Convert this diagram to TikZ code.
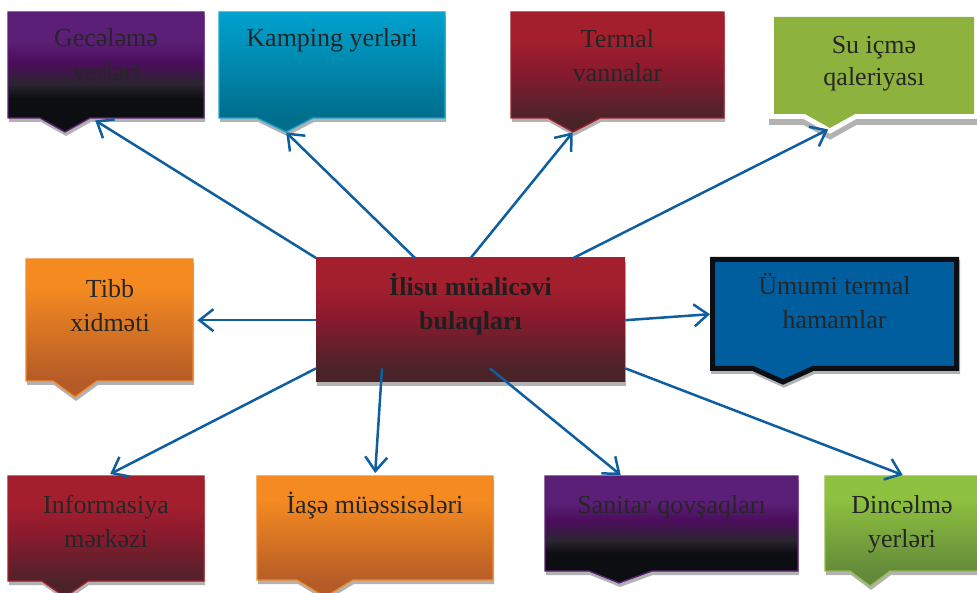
\documentclass[tikz,border=0pt]{standalone}
\usepackage{fontspec}
\setmainfont{Liberation Serif}
\usetikzlibrary{arrows.meta,calc}
\definecolor{ptop}{HTML}{5B1F77}
\definecolor{pmid}{HTML}{4A0D5B}
\definecolor{pgry}{HTML}{2A2530}
\definecolor{pblk}{HTML}{0D0E12}
\definecolor{rtop}{HTML}{A41F2E}
\definecolor{rmid}{HTML}{8A1A2E}
\definecolor{rbot}{HTML}{4A2329}
\definecolor{btop}{HTML}{00A2CE}
\definecolor{bmid}{HTML}{0090B8}
\definecolor{bbot}{HTML}{006E8C}
\definecolor{otop}{HTML}{F58A21}
\definecolor{obot}{HTML}{B45B27}
\definecolor{gtop}{HTML}{8EC13F}
\definecolor{gbot}{HTML}{62883A}
\definecolor{sgreen}{HTML}{8DB23D}
\definecolor{ublue}{HTML}{005E9E}
\definecolor{ublk}{HTML}{0B0E13}
\definecolor{arrc}{HTML}{0F5E9F}
\definecolor{shdc}{HTML}{B2B2B2}
\definecolor{txtc}{HTML}{262626}
\definecolor{pedge}{HTML}{5E2079}
\definecolor{redge}{HTML}{A21E2D}
\definecolor{bedge}{HTML}{18A6CF}
\definecolor{oedge}{HTML}{F38A2C}
\definecolor{gedge}{HTML}{8FC045}
\pgfdeclareverticalshading{purpsh}{100bp}{color(0bp)=(pblk); color(39bp)=(pblk); color(45bp)=(pgry); color(54bp)=(pmid); color(63bp)=(ptop); color(100bp)=(ptop)}
\pgfdeclareverticalshading{redsh}{100bp}{color(0bp)=(rbot); color(30bp)=(rbot); color(51bp)=(rmid); color(64bp)=(rtop); color(100bp)=(rtop)}
\pgfdeclareverticalshading{bluesh}{100bp}{color(0bp)=(bbot); color(31bp)=(bbot); color(60bp)=(bmid); color(75bp)=(btop); color(100bp)=(btop)}
\pgfdeclareverticalshading{orsh}{100bp}{color(0bp)=(obot); color(31bp)=(obot); color(65bp)=(otop); color(100bp)=(otop)}
\pgfdeclareverticalshading{grsh}{100bp}{color(0bp)=(gbot); color(30bp)=(gbot); color(65bp)=(gtop); color(100bp)=(gtop)}
\newcommand\cshape[9]{\path[#9] (#1,#2) -- (#3,#2) -- (#3,#4) -- (#7,#4) -- (#6,#8) -- (#5,#4) -- (#1,#4) -- cycle;}
\begin{document}
\begin{tikzpicture}[x=1pt,y=-1pt,
  lbl/.style={font=\fontsize{26}{34}\selectfont, text=txtc, align=center, inner sep=0pt, anchor=base},
  boxnode/.style={inner sep=0pt, anchor=north west},
  shd/.style={fill=shdc, xshift=1pt, yshift=-4pt},
  conn/.style={draw=arrc, line width=2.5pt, -{Straight Barb[length=14pt,width=22pt]}},
  purpbox/.style={shade, shading=purpsh, draw=pedge, line width=1.3pt},
  redbox/.style={shade, shading=redsh, draw=redge, line width=1.3pt},
  bluebox/.style={shade, shading=bluesh, draw=bedge, line width=1.3pt},
  orbox/.style={shade, shading=orsh, draw=oedge, line width=1.3pt},
  grbox/.style={shade, shading=grsh, draw=gedge, line width=1.3pt}]
\useasboundingbox (0,0) rectangle (977,593);
% geometry nodes
\node[boxnode, minimum width=196pt, minimum height=106pt] (g) at (8,12) {};
\node[boxnode, minimum width=226pt, minimum height=106pt] (k) at (219,12) {};
\node[boxnode, minimum width=213pt, minimum height=106pt] (t) at (511,12) {};
\node[boxnode, minimum width=200pt, minimum height=97pt] (s) at (774,17) {};
\node[boxnode, minimum width=167pt, minimum height=122pt] (tb) at (26,259) {};
\node[boxnode, minimum width=309pt, minimum height=124pt] (c) at (316,258) {};
\node[boxnode, minimum width=249pt, minimum height=114pt] (u) at (710,257) {};
\node[boxnode, minimum width=196pt, minimum height=105pt] (inf) at (8,476) {};
\node[boxnode, minimum width=236pt, minimum height=104pt] (ia) at (257,476) {};
\node[boxnode, minimum width=253pt, minimum height=95pt] (san) at (545,476) {};
\node[boxnode, minimum width=155pt, minimum height=95pt] (din) at (825,476) {};
% Gecələmə
\cshape{8}{12}{204}{118}{40}{65}{90}{132}{shd}
\cshape{8}{12}{204}{118}{40}{65}{90}{132}{purpbox}
% Kamping
\cshape{219}{12}{445}{118}{257}{286}{313}{132}{shd}
\cshape{219}{12}{445}{118}{257}{286}{313}{132}{bluebox}
% Termal
\cshape{511}{12}{724}{118}{548}{573}{600}{132}{shd}
\cshape{511}{12}{724}{118}{548}{573}{600}{132}{redbox}
% Su icme
\cshape{774}{17}{974}{114}{805}{830}{855}{128}{fill=shdc, draw=shdc, line width=10pt, yshift=-6pt}
\cshape{774}{17}{974}{114}{805}{830}{855}{128}{draw=white, line width=10pt}
\cshape{774}{17}{974}{114}{805}{830}{855}{128}{fill=sgreen}
% Tibb
\cshape{26}{259}{193}{381}{53}{75}{97}{397}{shd}
\cshape{26}{259}{193}{381}{53}{75}{97}{397}{orbox}
% center
\fill[shd] (316,258) rectangle (625,382);
\path[shade, shading=redsh] (316,258) rectangle (625,382);
% Umumi
\cshape{712.5}{259.5}{956.5}{368.5}{753}{783}{813}{382}{fill=shdc, draw=shdc, line width=5pt, xshift=1pt, yshift=-3pt}
\cshape{712.5}{259.5}{956.5}{368.5}{753}{783}{813}{382}{fill=ublue, draw=ublk, line width=5pt, line join=miter}
% Informasiya
\cshape{8}{476}{204}{581}{42}{65}{88}{597}{shd}
\cshape{8}{476}{204}{581}{42}{65}{88}{597}{redbox}
% Iase
\cshape{257}{476}{493}{580}{297}{325}{353}{597}{shd}
\cshape{257}{476}{493}{580}{297}{325}{353}{597}{orbox}
% Sanitar
\cshape{545}{476}{798}{571}{589}{619}{652}{583}{shd}
\cshape{545}{476}{798}{571}{589}{619}{652}{583}{purpbox}
% Dincelme
\cshape{825}{476}{985}{571}{850}{870}{890}{586}{shd}
\cshape{825}{476}{985}{571}{850}{870}{890}{586}{grbox}
% texts (two-line nodes: base anchor = last baseline)
\node[lbl] (gl) at (106,81) {Gecələmə\\yerləri};
\node[lbl] (kl) at (332,47) {Kamping yerləri};
\node[lbl] (tl) at (617.5,82) {Termal\\vannalar};
\node[lbl, font=\fontsize{26}{32}\selectfont] (sl) at (874,86) {Su içmə\\qaleriyası};
\node[lbl] (tbl) at (110,332) {Tibb\\xidməti};
\node[lbl, font=\fontsize{26}{34}\selectfont\bfseries, text=black!88] (cl) at (470.5,330) {İlisu müalicəvi\\bulaqları};
\node[lbl] (ul) at (834.5,329) {Ümumi termal\\hamamlar};
\node[lbl] (infl) at (106,547) {Informasiya\\mərkəzi};
\node[lbl] (ial) at (375,513) {İaşə müəssisələri};
\node[lbl] (sanl) at (671.5,513) {Sanitar qovşaqları};
\node[lbl] (dinl) at (902,547) {Dincəlmə\\yerləri};
% connectors
\draw[conn] (c.north west) -- ([xshift=-11pt,yshift=-2pt]g.south);
\draw[conn] ([xshift=99pt]c.north west) -- ([xshift=-46pt,yshift=-14pt]k.south);
\draw[conn] (c.north) -- ([xshift=-45pt,yshift=-14pt]t.south);
\draw[conn] ([xshift=-52pt]c.north east) -- ([xshift=-46pt,yshift=-15pt]s.south);
\draw[conn] (c.west) -- ([xshift=4pt]tb.east);
\draw[conn] (c.east) -- (u.west);
\draw[conn] ([yshift=14pt]c.south west) -- ([xshift=4pt,yshift=2pt]inf.north);
\draw[conn] ([xshift=66pt,yshift=14pt]c.south west) -- ([yshift=3pt]ia.north);
\draw[conn] ([xshift=174pt,yshift=14pt]c.south west) -- ([xshift=-51pt,yshift=1pt]san.north);
\draw[conn] ([yshift=14pt]c.south east) -- ([yshift=1pt]din.north);
\end{tikzpicture}
\end{document}
